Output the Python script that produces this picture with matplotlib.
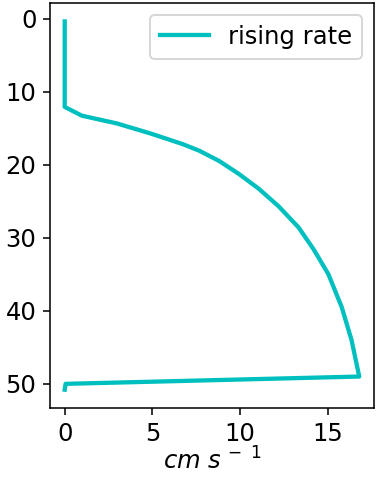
import matplotlib
matplotlib.use("Agg")
import matplotlib.pyplot as plt

# rising rate (cm/s) vs depth
rate = [0.0, 0.0, 0.98, 2.97, 4.85, 6.74, 7.68, 8.81, 9.95, 11.07, 12.2,
        13.34, 14.2, 15.04, 15.8, 16.36, 16.64, 16.8, 0.05, 0.0]
depth = [0.4, 12.1, 13.3, 14.36, 15.7, 17.2, 18.1, 19.5, 21.3, 23.3, 25.7,
         28.6, 31.6, 35.0, 39.5, 44.0, 47.2, 49.0, 50.0, 50.8]

plt.rcParams['font.size'] = 12.5

fig = plt.figure(figsize=(377 / 140, 479 / 140), dpi=140)
ax = fig.add_axes([0.1326, 0.148, 0.8594, 0.8457])
ax.plot(rate, depth, color="c", linewidth=2.2, label="rising rate")
ax.invert_yaxis()
ax.set_xticks([0, 5, 10, 15])
ax.set_yticks([0, 10, 20, 30, 40, 50])
ax.set_xlabel(r"$cm\ s^{\,-\ 1}$", labelpad=1)
ax.legend(loc="upper right")

fig.savefig("out.png", dpi=140)
